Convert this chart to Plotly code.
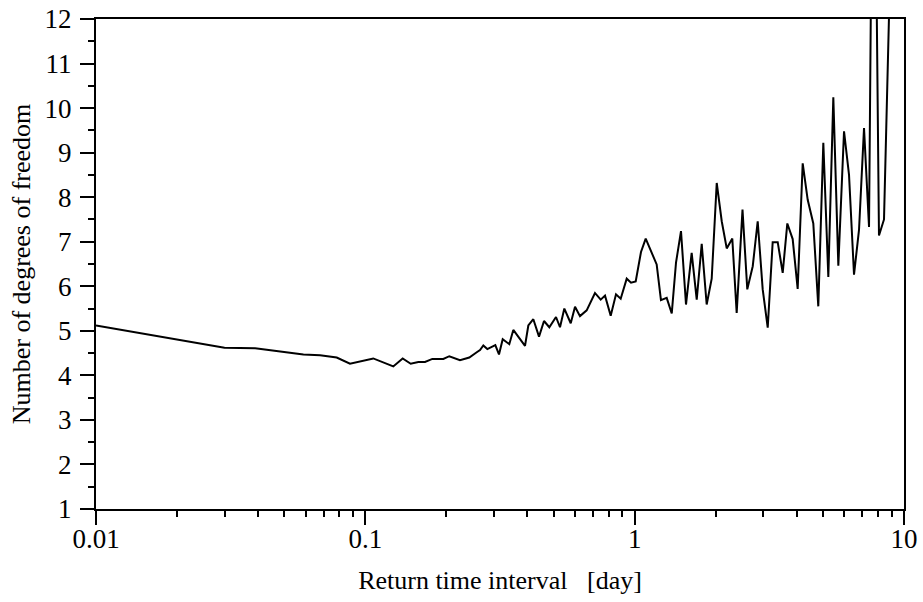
import plotly.graph_objects as go

# Return time interval [day]
interval = [0.01, 0.03, 0.039, 0.05, 0.0589, 0.0679, 0.0783, 0.0877, 0.107, 0.127,
            0.1376, 0.1474, 0.1573, 0.1666, 0.1773, 0.1948, 0.2050, 0.2246, 0.2432, 0.2592,
            0.2666, 0.2742, 0.2838, 0.3038, 0.3135, 0.3236, 0.3424, 0.3543, 0.3916, 0.4029,
            0.4205, 0.4414, 0.4607, 0.4821, 0.5104, 0.5282, 0.5481, 0.5789, 0.6006, 0.6266,
            0.6635, 0.7122, 0.7479, 0.7761, 0.8147, 0.8524, 0.8874, 0.9342, 0.9692, 1.009,
            1.0556, 1.099, 1.207, 1.252, 1.315, 1.373, 1.424, 1.486, 1.551, 1.628,
            1.700, 1.774, 1.851, 1.932, 2.017, 2.105, 2.197, 2.304, 2.392, 2.514,
            2.619, 2.744, 2.863, 2.988, 3.119, 3.254, 3.397, 3.545, 3.688, 3.861,
            4.029, 4.206, 4.390, 4.605, 4.806, 5.017, 5.236, 5.465, 5.704, 5.989,
            6.250, 6.523, 6.808, 7.105, 7.416, 7.706, 8.075, 8.428, 8.874]

# Number of degrees of freedom
dof = [5.12, 4.62, 4.61, 4.52, 4.47, 4.45, 4.40, 4.26, 4.38, 4.20,
       4.38, 4.26, 4.30, 4.30, 4.37, 4.37, 4.43, 4.34, 4.40, 4.52,
       4.57, 4.67, 4.59, 4.68, 4.47, 4.81, 4.70, 5.02, 4.66, 5.12,
       5.26, 4.87, 5.22, 5.08, 5.31, 5.08, 5.50, 5.17, 5.54, 5.33,
       5.46, 5.85, 5.70, 5.79, 5.34, 5.82, 5.72, 6.17, 6.08, 6.11,
       6.77, 7.07, 6.49, 5.69, 5.74, 5.39, 6.53, 7.24, 5.59, 6.75,
       5.70, 6.95, 5.59, 6.17, 8.32, 7.46, 6.85, 7.07, 5.40, 7.72,
       5.93, 6.45, 7.46, 5.93, 5.07, 6.99, 6.99, 6.30, 7.41, 7.06,
       5.94, 8.76, 7.94, 7.41, 5.55, 9.22, 6.21, 10.24, 6.46, 9.48,
       8.50, 6.26, 7.27, 9.55, 7.33, 19.5, 7.14, 7.50, 13.0]

x_tickvals = [0.01, 0.1, 1, 10]
x_ticktext = ["0.01", "0.1", "1", "10"]
x_minor = [m * d for d in (0.01, 0.1, 1) for m in range(2, 10)]
y_tickvals = list(range(1, 13))

FONT = "Liberation Serif"

fig = go.Figure()
fig.add_trace(go.Scatter(x=interval, y=dof, mode="lines",
                         line=dict(color="black", width=2), showlegend=False))

fig.update_layout(
    width=923, height=602,
    margin=dict(l=96, r=19, t=19, b=93, autoexpand=False),
    paper_bgcolor="white", plot_bgcolor="white",
    font=dict(family=FONT, size=26, color="black"),
    xaxis=dict(
        type="log", range=[-2, 1], automargin=False,
        tickvals=x_tickvals, ticktext=x_ticktext,
        ticks="outside", ticklen=14, tickwidth=2, tickcolor="black",
        minor=dict(tickvals=x_minor, ticks="outside", ticklen=6, tickwidth=2,
                   tickcolor="black", showgrid=False),
        showline=True, linewidth=2, linecolor="black", mirror=True,
        showgrid=False, zeroline=False,
        tickfont=dict(family=FONT, size=27, color="black"),
        ticklabelstandoff=-9,
        title=dict(text="Return time interval\u00a0\u00a0\u00a0[day]",
                   font=dict(family=FONT, size=26, color="black"), standoff=17),
    ),
    yaxis=dict(
        range=[1, 12], automargin=False,
        tickvals=y_tickvals,
        ticks="outside", ticklen=14, tickwidth=2, tickcolor="black",
        minor=dict(dtick=0.5, tick0=1, ticks="outside", ticklen=6, tickwidth=2,
                   tickcolor="black", showgrid=False),
        showline=True, linewidth=2, linecolor="black", mirror=True,
        showgrid=False, zeroline=False,
        tickfont=dict(family=FONT, size=27, color="black"),
        ticklabelstandoff=3,
        title=dict(text="Number of degrees of freedom",
                   font=dict(family=FONT, size=26, color="black"), standoff=6),
    ),
)

fig.write_html("out.html")
